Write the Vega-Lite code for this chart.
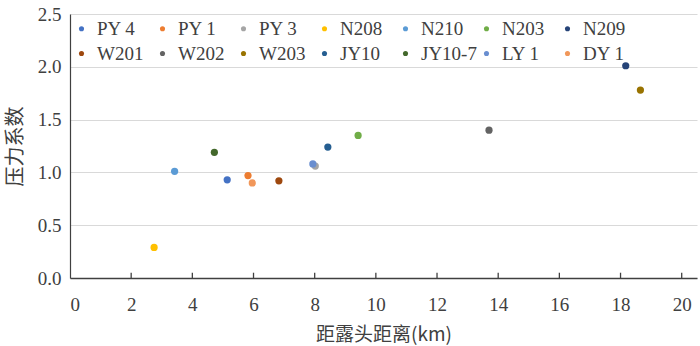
{
  "$schema": "https://vega.github.io/schema/vega-lite/v6.json",
  "autosize": "none",
  "width": 627,
  "height": 264,
  "padding": {"left": 70, "top": 14, "right": 3, "bottom": 68},
  "background": "white",
  "config": {
    "view": {"stroke": null},
    "font": "Liberation Serif"
  },
  "layer": [
    {
      "data": {"values": [
        {"t": 2}, {"t": 4}, {"t": 6}, {"t": 8}, {"t": 10}, {"t": 12}, {"t": 14}, {"t": 16}, {"t": 18}, {"t": 20}
      ]},
      "mark": {"type": "rule", "color": "#404040", "strokeWidth": 1.3},
      "encoding": {
        "x": {"field": "t", "type": "quantitative"},
        "y": {"datum": 0},
        "y2": {"datum": 0.05}
      }
    },
    {
      "data": {"values": [
        {"well": "PY 4", "dist": 5.14, "coef": 0.93},
        {"well": "PY 1", "dist": 5.82, "coef": 0.97},
        {"well": "PY 3", "dist": 8.02, "coef": 1.06},
        {"well": "N208", "dist": 2.75, "coef": 0.29},
        {"well": "N210", "dist": 3.42, "coef": 1.01},
        {"well": "N203", "dist": 9.42, "coef": 1.35},
        {"well": "N209", "dist": 18.17, "coef": 2.01},
        {"well": "W201", "dist": 6.83, "coef": 0.92},
        {"well": "W202", "dist": 13.7, "coef": 1.40},
        {"well": "W203", "dist": 18.65, "coef": 1.78},
        {"well": "JY10", "dist": 8.43, "coef": 1.24},
        {"well": "JY10-7", "dist": 4.72, "coef": 1.19},
        {"well": "LY 1", "dist": 7.94, "coef": 1.08},
        {"well": "DY 1", "dist": 5.96, "coef": 0.90}
      ]},
      "mark": {"type": "point", "filled": true, "opacity": 1, "size": 52},
      "encoding": {
        "x": {
          "field": "dist", "type": "quantitative",
          "scale": {"domain": [0, 20.5], "nice": false, "zero": true},
          "axis": {
            "values": [0, 2, 4, 6, 8, 10, 12, 14, 16, 18, 20],
            "title": "距露头距离(km)",
            "titleFont": "Noto Sans CJK SC", "titleFontWeight": "normal", "titleFontSize": 19, "titleColor": "#404040",
            "titlePadding": 11,
            "labelFont": "Liberation Serif",
            "labelFontSize": 19, "labelColor": "#404040", "labelPadding": 17,
            "ticks": false, "grid": false, "domainColor": "#404040", "domainWidth": 1.5
          }
        },
        "y": {
          "field": "coef", "type": "quantitative",
          "scale": {"domain": [0, 2.5], "nice": false},
          "axis": {
            "values": [0, 0.5, 1, 1.5, 2, 2.5],
            "format": ".1f",
            "title": "压力系数",
            "titleFont": "Noto Sans CJK SC", "titleFontWeight": "normal", "titleFontSize": 20, "titleColor": "#404040",
            "titlePadding": 12,
            "labelFont": "Liberation Serif",
            "labelFontSize": 19, "labelColor": "#404040", "labelPadding": 9,
            "ticks": false, "grid": true, "gridColor": "#D9D9D9", "gridWidth": 1.2,
            "domainColor": "#404040", "domainWidth": 1.2
          }
        },
        "color": {
          "field": "well", "type": "nominal",
          "scale": {
            "domain": ["PY 4", "PY 1", "PY 3", "N208", "N210", "N203", "N209", "W201", "W202", "W203", "JY10", "JY10-7", "LY 1", "DY 1"],
            "range": ["#4472C4", "#ED7D31", "#A5A5A5", "#FFC000", "#5B9BD5", "#70AD47", "#264478", "#9E480E", "#636363", "#997300", "#255E91", "#43682B", "#698ED0", "#F1975A"]
          },
          "legend": {
            "title": null,
            "orient": "none", "legendX": 2, "legendY": 5,
            "direction": "horizontal", "columns": 7, "gridAlign": "all",
            "symbolType": "circle", "symbolSize": 26, "symbolOpacity": 1,
            "labelFont": "Liberation Serif",
            "labelFontSize": 19, "labelColor": "#404040", "labelOffset": 6,
            "columnPadding": -14, "rowPadding": 5
          }
        }
      }
    }
  ]
}
